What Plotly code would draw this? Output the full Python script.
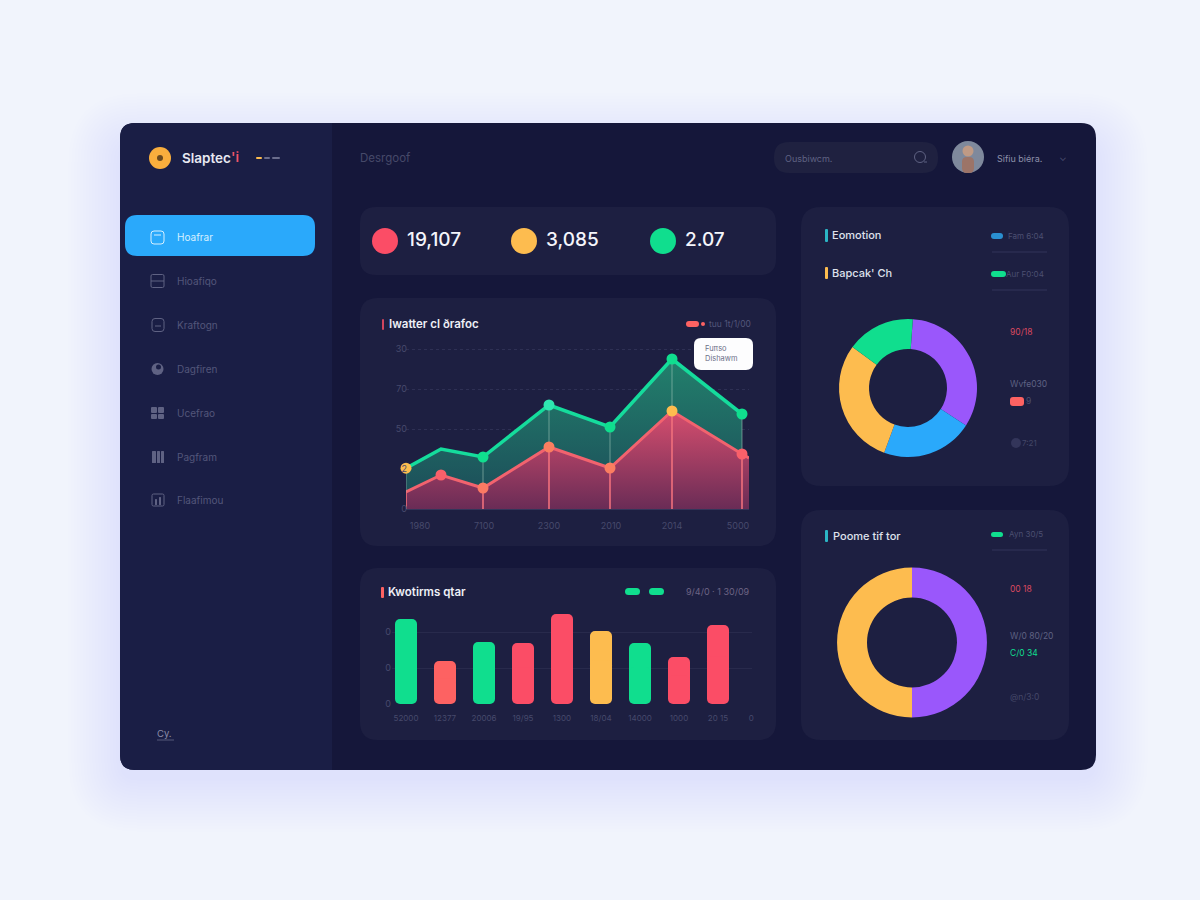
import plotly.graph_objects as go

# ---------- data ----------
area_x = [0, 35, 77, 143, 204, 266, 336]
area_upper = [10.2, 15.0, 13.0, 26.0, 20.5, 37.5, 23.75]
area_lower_x = [0, 35, 77, 143, 204, 266, 336, 343]
area_lower = [4.25, 8.5, 5.25, 15.5, 10.25, 24.5, 13.75, 12.75]
area_xticks = [14, 78, 143, 205, 266, 332]
area_xlabels = ["1980", "7100", "2300", "2010", "2014", "5000"]
area_yticks = [0, 10, 20, 30, 40]
area_ylabels = ["0", "2", "50", "70", "30"]

bar_labels = ["52000", "12377", "20006", "19/95", "1300", "18/04", "14000", "1000", "20 15"]
bar_values = [85, 43, 62, 61, 90, 73, 61, 47, 79]
bar_yticks = [0, 36, 72]
bar_ylabels = ["0", "0", "0"]

donut1_labels = ["Purple", "Blue", "Amber", "Green"]
donut1_values = [33.0, 21.5, 29.5, 16.0]
donut2_labels = ["Purple", "Amber"]
donut2_values = [50, 50]

kpi_values = ["19,107", "3,085", "2.07"]
nav_items = ["Hoafrar", "Hioafiqo", "Kraftogn", "Dagfiren", "Ucefrao", "Pagfram", "Flaafimou"]

# ---------- colours ----------
PAGE = "#f1f4fc"
SIDE = "#1a1e45"
MAIN = "#15173a"
CARD = "#1d1f41"
RED = "#fb4d66"
CORAL = "#fd6262"
AMBER = "#fdbc4f"
GREEN = "#10de8e"
BLUE = "#2aa9fb"
PURPLE = "#9a57fb"
DIM = "#53567a"
TICK = "#474a6c"
ICON = "#5f6283"
FONT = "Inter"


def X(px):
    return px / 1200


def Y(py):
    return 1 - py / 900


shapes = []
annotations = []


def rrect(x0, y0, x1, y1, r, fill, line=None, layer="below", opacity=1.0, corners=(1, 1, 1, 1)):
    tl, tr, br, bl = [r * c for c in corners]
    p = (
        f"M {X(x0 + tl)} {Y(y0)} L {X(x1 - tr)} {Y(y0)} Q {X(x1)} {Y(y0)} {X(x1)} {Y(y0 + tr)} "
        f"L {X(x1)} {Y(y1 - br)} Q {X(x1)} {Y(y1)} {X(x1 - br)} {Y(y1)} "
        f"L {X(x0 + bl)} {Y(y1)} Q {X(x0)} {Y(y1)} {X(x0)} {Y(y1 - bl)} "
        f"L {X(x0)} {Y(y0 + tl)} Q {X(x0)} {Y(y0)} {X(x0 + tl)} {Y(y0)} Z"
    )
    shapes.append(dict(type="path", xref="paper", yref="paper", path=p, fillcolor=fill,
                       line=dict(width=1 if line else 0, color=line or "rgba(0,0,0,0)"),
                       layer=layer, opacity=opacity))


def circle(cx, cy, r, fill, line=None, layer="below"):
    shapes.append(dict(type="circle", xref="paper", yref="paper", x0=X(cx - r), x1=X(cx + r),
                       y0=Y(cy + r), y1=Y(cy - r), fillcolor=fill,
                       line=dict(width=1 if line else 0, color=line or "rgba(0,0,0,0)"), layer=layer))


def hline(x0, x1, y, color, w=1, layer="below"):
    shapes.append(dict(type="line", xref="paper", yref="paper", x0=X(x0), x1=X(x1), y0=Y(y), y1=Y(y),
                       line=dict(color=color, width=w), layer=layer))


def text(x, y, s, size=11, color="#ffffff", anchor="left", weight=400):
    annotations.append(dict(xref="paper", yref="paper", x=X(x), y=Y(y), text=s, showarrow=False,
                            xanchor=anchor, yanchor="middle", align=anchor,
                            font=dict(family=FONT, size=size, color=color, weight=weight)))


# ---------- window and soft shadow ----------
for grow in range(52, 0, -3):
    rrect(120 - grow, 123 - grow + 22, 1096 + grow, 770 + grow + 10, 18 + grow,
          "rgba(70,80,130,0.0045)")
rrect(120, 123, 1096, 770, 15, MAIN)
rrect(120, 123, 332, 770, 15, SIDE, corners=(1, 0, 0, 1))

# ---------- sidebar ----------
circle(160, 158, 11, "#f9ae3d")
circle(160, 158, 3, "#6b4a1f")
text(180, 158, "Slaptec", 13.5, "#e8e9f2", weight=600)
text(229, 157, "'i", 13.5, "#f0566a", weight=600)
rrect(256, 157, 262, 159, 1, AMBER)
rrect(264, 157, 270, 159, 1, "#6a6d8c")
rrect(272, 157, 280, 159, 1, "#6a6d8c")

rrect(125, 215, 315, 256, 12, BLUE)
rrect(151, 231, 164, 244, 3, "rgba(0,0,0,0)", line="#d7f0ff")
hline(154, 161, 235, "#d7f0ff")
text(175, 237, nav_items[0], 10, "#d7f0ff")
nav_y = [281, 325, 369, 413, 457, 500]
for y, lab in zip(nav_y, nav_items[1:]):
    text(175, y, lab, 10, DIM)
# sidebar icons
rrect(151, 274.5, 164, 287.5, 1.5, "rgba(0,0,0,0)", line=ICON)
hline(151, 164, 281, ICON)
rrect(152, 318.5, 164, 331.5, 3, "rgba(0,0,0,0)", line=ICON)
hline(155, 161, 326, ICON)
circle(157.5, 369, 6, ICON)
circle(158.5, 367, 2.5, SIDE)
rrect(151, 407, 157, 413, 1, ICON)
rrect(158, 407, 164, 413, 1, ICON)
rrect(151, 414, 157, 419, 1, ICON)
rrect(158, 414, 164, 419, 1, ICON)
rrect(152, 451, 156, 463, 0.5, ICON)
rrect(157, 451, 160, 463, 0.5, ICON)
rrect(161, 451, 164, 463, 0.5, ICON)
rrect(152, 494, 164, 506, 1.5, "rgba(0,0,0,0)", line=ICON)
rrect(155, 499, 157, 505, 0.5, ICON)
rrect(159, 497, 161, 505, 0.5, ICON)
text(155, 733, "Cy.", 9.5, "#8a8da8")
hline(157, 174, 740, "#55587a")

# ---------- header ----------
text(358, 158, "Desrgoof", 11.5, "#464969")
rrect(774, 142, 938, 173, 15, "#1f2140")
text(783, 158, "Ousbiwcm.", 9, "#5f6283")
circle(920, 157, 5.5, "rgba(0,0,0,0)", line="#5f6283")
hline(924, 927, 162, "#5f6283")
circle(968, 157, 16, "#7f899c")
circle(968, 151, 5.5, "#c09a85")
rrect(962, 157, 974, 173, 5, "#9c7468")
text(995, 158, "Sifiu biéra.", 9, "#8e91aa")
text(1063, 157, "⌄", 10, "#4c4f71", anchor="center")

# ---------- cards ----------
rrect(360, 207, 776, 275, 16, CARD)
rrect(360, 298, 776, 546, 18, CARD)
rrect(360, 568, 776, 740, 18, CARD)
rrect(801, 207, 1069, 486, 20, CARD)
rrect(801, 510, 1069, 740, 20, CARD)

# KPI row
for cx, col, val in zip([385, 524, 663], [RED, AMBER, GREEN], kpi_values):
    circle(cx, 241, 13, col)
    text(cx + 20, 240, val, 19, "#f4f5fb", weight=500)

# area card header
rrect(382, 319, 384, 330, 1, "#d0455e")
text(387, 324, "Iwatter cl ðrafoc", 11.5, "#eeeff6", weight=600)
rrect(686, 321, 699, 327, 3, CORAL)
circle(703, 324, 2, CORAL)
text(707, 324, "tuu 1t/1/00", 8.5, "#53567a")

# bar card header
rrect(381, 587, 384, 598, 1, CORAL)
text(386, 592, "Kwotirms qtar", 11.5, "#eeeff6", weight=600)
rrect(625, 588, 640, 595, 3.5, GREEN)
rrect(649, 588, 664, 595, 3.5, GREEN)
text(752, 591, "9/4/0 · 1 30/09", 9, "#6d6484", anchor="right")

# donut card 1 header
rrect(825, 229, 828, 242, 1, "#2bb5c5")
text(830, 235, "Eomotion", 11, "#dfe1ec", weight=500)
rrect(991, 233, 1003, 239, 3, "#2a8fd0")
text(1046, 236, "Fam 6:04", 8, "#4c4f71", anchor="right")
hline(992, 1047, 252, "#33355a")
rrect(825, 267, 828, 279, 1, AMBER)
text(830, 273, "Bapcak' Ch", 11, "#dfe1ec", weight=500)
rrect(991, 271, 1006, 277, 3, GREEN)
text(1046, 274, "Aur F0:04", 8, "#4c4f71", anchor="right")
hline(992, 1047, 290, "#33355a")
text(1008, 332, "90/18", 8.5, "#d9485f")
text(1008, 384, "Wvfe030", 8.5, "#5f6283")
rrect(1010, 397, 1024, 406, 3, CORAL)
text(1024, 401, "9", 8.5, "#4c4f71")
circle(1016, 443, 5, "#33355a")
text(1020, 443, "7:21", 8, "#444768")

# donut card 2 header
rrect(825, 530, 828, 542, 1, "#2bb5c5")
text(831, 536, "Poome tif tor", 11, "#dfe1ec", weight=500)
rrect(991, 532, 1003, 537, 2.5, GREEN)
text(1045, 534, "Ayn 30/5", 8, "#4c4f71", anchor="right")
hline(992, 1047, 550, "#33355a")
text(1008, 589, "00 18", 8.5, "#d9485f")
text(1008, 636, "W/0 80/20", 8.5, "#5f6283")
text(1008, 653, "C/0 34", 8.5, GREEN)
text(1008, 697, "@n/3:0", 8.5, "#444768")

# tooltip
rrect(694, 338, 753, 370, 7, "#fdfdfe", layer="above")
text(703, 348, "Fuπso", 7.5, "#6c6f88")
text(703, 359, "Dishawm", 7.5, "#6c6f88")

# ---------- traces ----------
fig = go.Figure()

upper_colors = [AMBER, "rgba(0,0,0,0)", GREEN, "#2fe6b0", GREEN, GREEN, GREEN]
upper_sizes = [11, 0, 11, 11, 11, 11, 11]
lower_colors = ["rgba(0,0,0,0)", "#f9606a", "#fb7a63", "#fb7e60", "#fb7e60", AMBER, "#f9606a", "rgba(0,0,0,0)"]
lower_sizes = [0, 11, 11, 11, 11, 11, 11, 0]
connector = [u - l for u, l in zip(area_upper, area_lower)]
connector[1] = 0

fig.add_trace(go.Scatter(
    x=area_x, y=area_upper, mode="lines", xaxis="x", yaxis="y", cliponaxis=False,
    fill="tozeroy",
    fillgradient=dict(type="vertical", colorscale=[[0, "#1c4a58"], [1, "#22806c"]]),
    line=dict(color="#15dc9c", width=3.5), showlegend=False, hoverinfo="skip"))
fig.add_trace(go.Scatter(
    x=area_lower_x, y=area_lower, mode="lines", xaxis="x", yaxis="y", cliponaxis=False,
    fill="tozeroy",
    fillgradient=dict(type="vertical", colorscale=[[0, "#6a2c56"], [1, "#d64e6e"]]),
    line=dict(color="#f2636e", width=3), showlegend=False, hoverinfo="skip"))
fig.add_trace(go.Scatter(
    x=area_x, y=area_upper, mode="markers", xaxis="x", yaxis="y", cliponaxis=False,
    marker=dict(color=upper_colors, size=upper_sizes, opacity=1, line=dict(width=0)),
    error_y=dict(type="data", symmetric=False, array=[0] * 7, arrayminus=connector,
                 color="rgba(170,205,190,0.55)", thickness=1, width=0),
    showlegend=False, hoverinfo="skip"))
fig.add_trace(go.Scatter(
    x=area_lower_x, y=area_lower, mode="markers", xaxis="x", yaxis="y", cliponaxis=False,
    marker=dict(color=lower_colors, size=lower_sizes, opacity=1, line=dict(width=0)),
    error_y=dict(type="data", symmetric=False, array=[0] * 8,
                 arrayminus=[area_lower[0], 0, area_lower[2], area_lower[3], area_lower[4],
                             area_lower[5], area_lower[6], 0],
                 color="#f0707c", thickness=1.6, width=0),
    showlegend=False, hoverinfo="skip"))

bar_x = list(range(len(bar_values)))
bar_colors = [GREEN, CORAL, GREEN, RED, RED, AMBER, GREEN, RED, RED]
# each bar is built from two overlapping halves so that both ends get rounded corners
fig.add_trace(go.Bar(
    x=bar_x, y=[v * 0.6 for v in bar_values], base=[v * 0.4 for v in bar_values],
    xaxis="x2", yaxis="y2", width=22 / 39,
    marker=dict(color=bar_colors, cornerradius=5, line=dict(width=0)),
    showlegend=False, hoverinfo="skip"))
fig.add_trace(go.Bar(
    x=bar_x, y=[-v * 0.6 for v in bar_values], base=[v * 0.6 for v in bar_values],
    xaxis="x2", yaxis="y2", width=22 / 39,
    marker=dict(color=bar_colors, cornerradius=5, line=dict(width=0)),
    showlegend=False, hoverinfo="skip"))

fig.add_trace(go.Pie(
    labels=donut1_labels, values=donut1_values, hole=0.565, sort=False, rotation=4,
    direction="clockwise", textinfo="none", showlegend=False, hoverinfo="skip",
    marker=dict(colors=[PURPLE, BLUE, AMBER, GREEN], line=dict(width=0)),
    domain=dict(x=[X(908 - 69), X(908 + 69)], y=[Y(388 + 69), Y(388 - 69)])))
fig.add_trace(go.Pie(
    labels=donut2_labels, values=donut2_values, hole=0.6, sort=False, rotation=0,
    direction="clockwise", textinfo="none", showlegend=False, hoverinfo="skip",
    marker=dict(colors=[PURPLE, AMBER], line=dict(width=0)),
    domain=dict(x=[X(912 - 75), X(912 + 75)], y=[Y(642.5 + 75), Y(642.5 - 75)])))

tickfont = dict(family=FONT, size=9, color=TICK)
fig.update_layout(
    width=1200, height=900, margin=dict(l=0, r=0, t=0, b=0, pad=0, autoexpand=False), autosize=False,
    paper_bgcolor=PAGE, plot_bgcolor="rgba(0,0,0,0)", barmode="overlay",
    shapes=shapes, annotations=annotations, showlegend=False, hovermode=False,
    xaxis=dict(domain=[X(406), X(749)], range=[0, 343], tickmode="array", tickvals=area_xticks,
               ticktext=area_xlabels, showgrid=False, zeroline=False, showline=True,
               linecolor="#33355a", linewidth=1, ticks="outside", ticklen=8,
               tickcolor="rgba(0,0,0,0)", tickfont=tickfont),
    yaxis=dict(domain=[Y(509), Y(345)], range=[0, 41], tickmode="array", tickvals=area_yticks,
               ticktext=area_ylabels, showgrid=True, gridcolor="#2e3054", griddash="dot",
               gridwidth=1, zeroline=False, showline=False, ticks="", ticklabelstandoff=-2,
               tickfont=tickfont),
    xaxis2=dict(domain=[X(392), X(752)], range=[-14 / 39, 346 / 39], tickmode="array",
                tickvals=bar_x + [8.85], ticktext=bar_labels + ["0"], showgrid=False,
                zeroline=False, showline=False, ticks="outside", ticklen=6,
                tickcolor="rgba(0,0,0,0)", anchor="y2", tickfont=dict(family=FONT, size=8, color=TICK)),
    yaxis2=dict(domain=[Y(704), Y(610)], range=[0, 94], tickmode="array", tickvals=bar_yticks,
                ticktext=bar_ylabels, showgrid=True, gridcolor="#282a4c", gridwidth=1,
                zeroline=False, showline=False, ticks="", anchor="x2", tickfont=tickfont),
)

fig.write_html("out.html", config={"displayModeBar": False},
               post_script="document.body.style.margin='0';")
